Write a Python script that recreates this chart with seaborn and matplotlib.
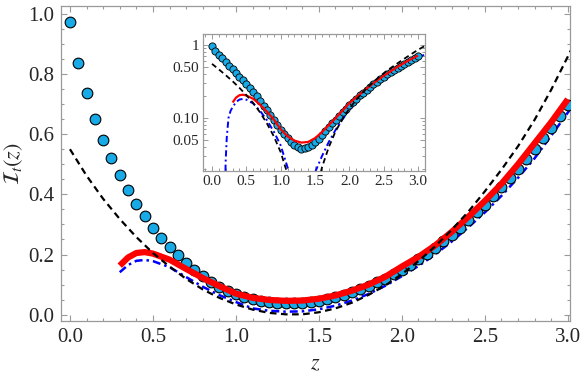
import numpy as np
import pandas as pd
import matplotlib
matplotlib.use("Agg")
import matplotlib.pyplot as plt
import matplotlib.ticker as mticker
import seaborn as sns

# ---------------- data ----------------
circ_z = [round(0.05 * i, 2) for i in range(61)]
circ_v = [0.973, 0.836, 0.736, 0.652, 0.580, 0.520, 0.463, 0.413, 0.367, 0.327,
          0.288, 0.254, 0.224, 0.197, 0.171, 0.147, 0.127, 0.110, 0.093, 0.080,
          0.069, 0.060, 0.053, 0.047, 0.043, 0.040, 0.038, 0.0386, 0.0403, 0.0431,
          0.0471, 0.0523, 0.0585, 0.0659, 0.0745, 0.0842, 0.095, 0.107, 0.120, 0.134,
          0.150, 0.166, 0.184, 0.203, 0.223, 0.244, 0.266, 0.289, 0.314, 0.340,
          0.366, 0.394, 0.423, 0.454, 0.485, 0.517, 0.551, 0.586, 0.622, 0.659,
          0.697]

black_z = [0.0, 0.1, 0.2, 0.3, 0.4, 0.5, 0.6, 0.7, 0.8, 0.9, 1.0, 1.1, 1.2, 1.3,
           1.4, 1.5, 1.6, 1.7, 1.8, 1.9, 2.0, 2.1, 2.2, 2.3, 2.4, 2.5, 2.6, 2.7,
           2.8, 2.9, 3.0, 3.1]
black_v = [0.550, 0.462, 0.385, 0.318, 0.258, 0.205, 0.160, 0.119, 0.084, 0.056,
           0.034, 0.017, 0.006, 0.0012, 0.0012, 0.008, 0.021, 0.040, 0.066, 0.097,
           0.135, 0.178, 0.227, 0.282, 0.342, 0.410, 0.482, 0.560, 0.648, 0.748,
           0.858, 0.970]

red_z = [0.3, 0.35, 0.4, 0.45, 0.5, 0.6, 0.7, 0.8, 0.9, 1.0, 1.1, 1.2, 1.3, 1.4,
         1.5, 1.6, 1.7, 1.8, 1.9, 2.0, 2.1, 2.2, 2.3, 2.4, 2.5, 2.6, 2.7, 2.8,
         2.9, 3.0]
red_v = [0.163, 0.190, 0.205, 0.208, 0.203, 0.183, 0.152, 0.122, 0.095, 0.070,
         0.056, 0.049, 0.046, 0.047, 0.053, 0.064, 0.080, 0.100, 0.126, 0.160,
         0.192, 0.230, 0.275, 0.325, 0.378, 0.435, 0.500, 0.570, 0.640, 0.716]

blue_z = [0.19, 0.2, 0.215, 0.24, 0.27, 0.3, 0.35, 0.4, 0.45, 0.5, 0.6, 0.7,
          0.8, 0.9, 1.0, 1.1, 1.2, 1.3, 1.4, 1.5, 1.6, 1.7, 1.8, 1.9, 2.0, 2.1,
          2.2, 2.3, 2.4, 2.5, 2.6, 2.7, 2.8, 2.9, 3.0, 3.1]
blue_v = [0.012, 0.027, 0.054, 0.100, 0.125, 0.141, 0.165, 0.179, 0.182, 0.178,
          0.158, 0.125, 0.093, 0.065, 0.042, 0.021, 0.013, 0.010, 0.011, 0.018,
          0.030, 0.047, 0.069, 0.096, 0.128, 0.162, 0.200, 0.243, 0.290, 0.340,
          0.395, 0.455, 0.520, 0.595, 0.672, 0.740]

main_xticks = [0.0, 0.5, 1.0, 1.5, 2.0, 2.5, 3.0]
main_yticks = [0.0, 0.2, 0.4, 0.6, 0.8, 1.0]
inset_yticks = [0.05, 0.10, 0.50, 1.0]
inset_ylabels = ["0.05", "0.10", "0.50", "1"]

circ = pd.DataFrame({"z": circ_z, "v": circ_v})
black = pd.DataFrame({"z": black_z, "v": black_v})
red = pd.DataFrame({"z": red_z, "v": red_v})
blue = pd.DataFrame({"z": blue_z, "v": blue_v})
blue_main = blue[blue["z"] >= 0.3]

# ---------------- style ----------------
sns.set_style("ticks")
plt.rcParams["font.family"] = "serif"
plt.rcParams["font.serif"] = ["Liberation Serif", "Times New Roman", "DejaVu Serif"]
plt.rcParams["mathtext.fontset"] = "stix"

CIRC = "#18AAE6"
SPINE = "#9a9a9a"

fig = plt.figure(figsize=(5.81, 3.82), dpi=100)
ax = fig.add_axes([61 / 581, 1 - 321 / 382, 509 / 581, 315 / 382])


def draw(axis, circ_df, blue_df, ms, mew, lw_red, lw_blue, lw_black):
    sns.scatterplot(data=circ_df, x="z", y="v", ax=axis, s=ms ** 2, color=CIRC,
                    edgecolor="black", linewidth=mew, zorder=3, legend=False)
    sns.lineplot(data=blue_df, x="z", y="v", ax=axis, color="#0000ff",
                 lw=lw_blue, errorbar=None, zorder=2)
    axis.lines[-1].set_dashes([3.2, 1.6, 1.0, 1.6])
    sns.lineplot(data=red, x="z", y="v", ax=axis, color="#ff0000",
                 lw=lw_red, errorbar=None, zorder=4)
    axis.lines[-1].set_solid_capstyle("butt")
    sns.lineplot(data=black, x="z", y="v", ax=axis, color="black",
                 lw=lw_black, errorbar=None, zorder=5)
    axis.lines[-1].set_dashes([3.0, 2.0])


draw(ax, circ, blue_main, 7.7, 0.8, 4.5, 1.8, 1.6)

ax.set_xlim(-0.054, 3.013)
ax.set_ylim(-0.021, 1.026)
ax.set_xticks(main_xticks)
ax.set_yticks(main_yticks)
ax.xaxis.set_major_formatter(mticker.FormatStrFormatter("%.1f"))
ax.yaxis.set_major_formatter(mticker.FormatStrFormatter("%.1f"))
ax.xaxis.set_minor_locator(mticker.MultipleLocator(0.1))
ax.yaxis.set_minor_locator(mticker.MultipleLocator(0.05))
ax.tick_params(which="both", direction="in", top=True, right=True,
               color=SPINE, width=0.8, labelsize=15, pad=5)
ax.tick_params(which="major", length=4.5)
ax.tick_params(which="minor", length=2.5)
for sp in ax.spines.values():
    sp.set_color(SPINE)
    sp.set_linewidth(0.9)
ax.set_xlabel("$z$", fontsize=16, labelpad=6)
ax.set_ylabel(r"$\mathcal{I}_t(z)$", fontsize=16, labelpad=2)

# ---------------- inset ----------------
axi = fig.add_axes([203 / 581, 1 - 171 / 382, 222 / 581, 137 / 382])
axi.set_yscale("log")
draw(axi, circ, blue, 5.2, 0.6, 1.6, 1.4, 1.3)
axi.set_xlim(-0.131, 3.10)
axi.set_ylim(0.0188, 1.41)
axi.set_xticks(main_xticks)
axi.xaxis.set_major_formatter(mticker.FormatStrFormatter("%.1f"))
axi.xaxis.set_minor_locator(mticker.MultipleLocator(0.1))
axi.set_yticks(inset_yticks)
axi.set_yticklabels(inset_ylabels)
axi.yaxis.set_minor_locator(mticker.LogLocator(base=10, subs=np.arange(2, 10) * 0.1 * 10 / 10, numticks=20))
axi.yaxis.set_minor_formatter(mticker.NullFormatter())
axi.tick_params(which="both", direction="in", top=True, right=True,
                color=SPINE, width=0.7, labelsize=11, pad=3)
axi.tick_params(which="major", length=3.5)
axi.tick_params(which="minor", length=2)
for sp in axi.spines.values():
    sp.set_color(SPINE)
    sp.set_linewidth(0.9)
axi.set_xlabel("")
axi.set_ylabel("")

fig.savefig("out.png", dpi=100)
